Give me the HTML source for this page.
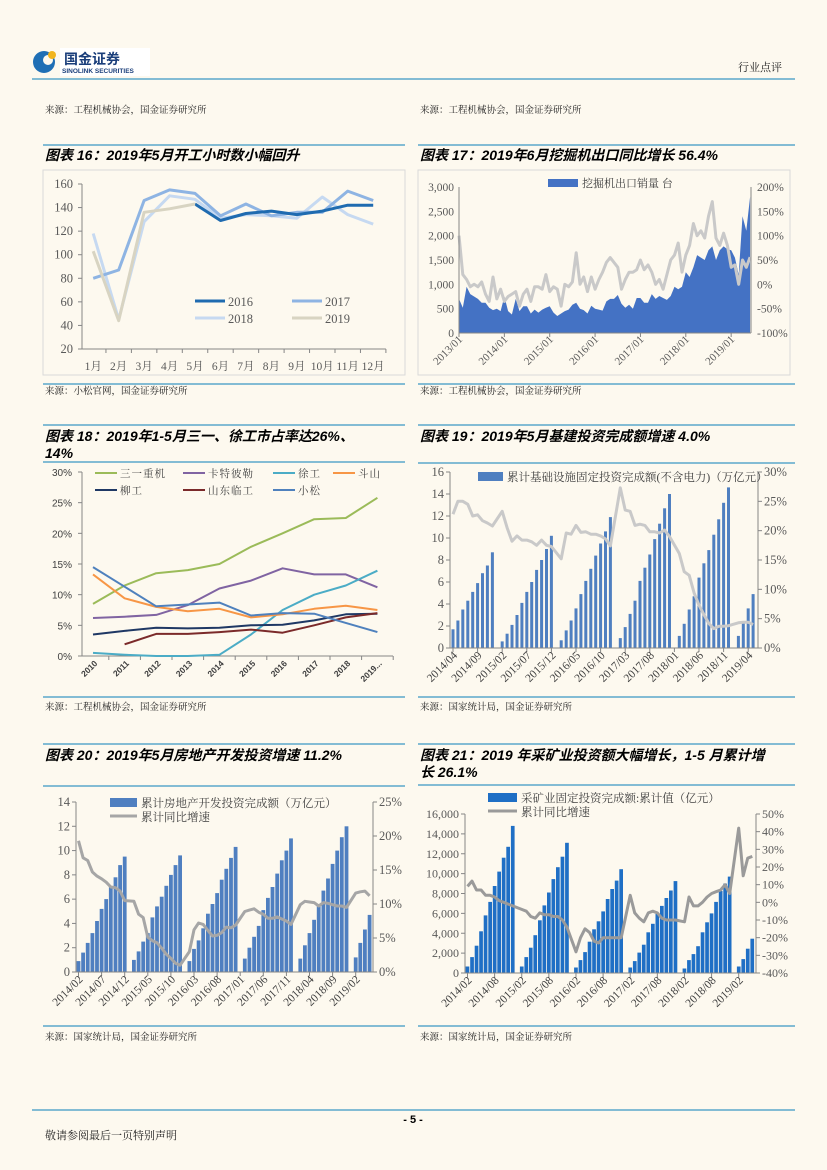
<!DOCTYPE html>
<html><head><meta charset="utf-8">
<style>
html,body{margin:0;padding:0;background:#fdf9ef;}
svg{display:block;}
text{font-family:"Liberation Serif","Noto Serif CJK SC",serif;}
.t{font-family:"Liberation Sans","Noto Sans CJK SC",sans-serif;font-weight:bold;font-style:italic;font-size:14px;fill:#000;}
.src{font-family:"Liberation Serif","Noto Serif CJK SC",serif;font-size:9.5px;fill:#222;}
.ax{font-size:12px;fill:#595959;}
.lg{font-family:"Liberation Serif","Noto Serif CJK SC",serif;font-size:11px;fill:#404040;}
</style></head>
<body>
<svg id="page" width="827" height="1170" xmlns="http://www.w3.org/2000/svg">
<rect x="0" y="0" width="827" height="1170" fill="#fdf9ef"/>
<g>
<circle cx="44" cy="62" r="11" fill="#1f6fb5"/><circle cx="48" cy="60" r="5" fill="#fdf9ef"/><circle cx="52" cy="55" r="4" fill="#f2b51c"/>
<rect x="60" y="48" width="90" height="28" fill="#fff"/>
<text x="64" y="64" style="font-family:'Noto Sans CJK SC',sans-serif;font-size:14px;font-weight:bold;fill:#1a3e7a">国金证券</text>
<text x="62" y="73" style="font-family:'Liberation Sans',sans-serif;font-size:6.5px;font-weight:bold;fill:#1a3e7a">SINOLINK SECURITIES</text>
</g>
<text x="738" y="71" class="src" style="font-size:11px">行业点评</text>
<line x1="32" y1="79" x2="795" y2="79" stroke="#5ba8cc" stroke-width="1.5"/>
<text x="45" y="113" class="src">来源：工程机械协会，国金证券研究所</text>
<text x="420" y="113" class="src">来源：工程机械协会，国金证券研究所</text>

<!-- titles & rules -->
<g stroke="#5ba8cc" stroke-width="1.5">
<line x1="43" y1="145" x2="405" y2="145"/><line x1="418" y1="145" x2="795" y2="145"/>
<line x1="43" y1="384" x2="405" y2="384"/><line x1="418" y1="384" x2="795" y2="384"/>
<line x1="43" y1="425" x2="405" y2="425"/><line x1="418" y1="425" x2="795" y2="425"/>
<line x1="43" y1="462" x2="405" y2="462"/><line x1="418" y1="463" x2="795" y2="463"/>
<line x1="43" y1="697" x2="405" y2="697"/><line x1="418" y1="697" x2="795" y2="697"/>
<line x1="43" y1="744" x2="405" y2="744"/><line x1="418" y1="744" x2="795" y2="744"/>
<line x1="43" y1="786" x2="405" y2="786"/><line x1="418" y1="785" x2="795" y2="785"/>
<line x1="43" y1="1026" x2="405" y2="1026"/><line x1="418" y1="1026" x2="795" y2="1026"/>
<line x1="32" y1="1110" x2="795" y2="1110"/>
</g>
<text x="45" y="160" class="t">图表 16：2019年5月开工小时数小幅回升</text>
<text x="420" y="160" class="t">图表 17：2019年6月挖掘机出口同比增长 56.4%</text>
<text x="45" y="441" class="t">图表 18：2019年1-5月三一、徐工市占率达26%、</text>
<text x="45" y="458" class="t">14%</text>
<text x="420" y="441" class="t">图表 19：2019年5月基建投资完成额增速 4.0%</text>
<text x="45" y="760" class="t">图表 20：2019年5月房地产开发投资增速 11.2%</text>
<text x="420" y="760" class="t">图表 21：2019 年采矿业投资额大幅增长，1-5 月累计增</text>
<text x="420" y="777" class="t">长 26.1%</text>
<text x="45" y="394" class="src">来源：小松官网，国金证券研究所</text>
<text x="420" y="394" class="src">来源：工程机械协会，国金证券研究所</text>
<text x="45" y="710" class="src">来源：工程机械协会，国金证券研究所</text>
<text x="420" y="710" class="src">来源：国家统计局，国金证券研究所</text>
<text x="45" y="1040" class="src">来源：国家统计局，国金证券研究所</text>
<text x="420" y="1040" class="src">来源：国家统计局，国金证券研究所</text>
<text x="413" y="1123" text-anchor="middle" style="font-family:'Liberation Sans',sans-serif;font-weight:bold;font-size:11px">- 5 -</text>
<text x="45" y="1139" class="src" style="font-size:11px">敬请参阅最后一页特别声明</text>
<rect x="43" y="170" width="362" height="205" fill="none" stroke="#d9d9d9"/>
<rect x="418" y="170" width="372" height="205" fill="none" stroke="#d9d9d9"/>
</svg>
<script>
// ---- chart 16 data ----
const c16Months=["1月","2月","3月","4月","5月","6月","7月","8月","9月","10月","11月","12月"];
const c16Y2016=[null,null,null,null,143,129,135,137,134,137,142,142];
const c16Y2017=[80,87,146,155,152,133,143,133,136,136,154,146];
const c16Y2018=[118,45,128,150,147,131,134,133,131,149,134,126];
const c16Y2019=[103,44,136,139,143];
const c16Ticks=[20,40,60,80,100,120,140,160];
// ---- chart 17 data ----
const c17Export=[700,520,950,800,750,700,620,620,520,470,500,450,
750,450,380,700,450,550,550,400,480,420,480,520,
550,420,350,400,450,480,580,620,500,470,400,560,
500,480,460,650,700,700,780,600,520,580,500,720,
720,620,620,800,700,760,720,680,760,950,900,950,
1250,1150,1350,1600,1550,1500,1700,1780,1500,1700,1780,1720,
1700,1550,1200,2400,2100,2800];
const c17Growth=[100,20,10,-5,0,-5,5,-20,-35,15,-30,-10,
-35,-25,-20,-15,-45,-20,-10,-35,-5,-5,-10,20,
-15,-5,-10,-45,0,-5,5,65,0,15,-15,15,
-10,10,25,45,55,45,35,-10,10,25,25,30,
50,30,40,25,0,10,-10,20,50,60,85,25,
60,80,125,100,110,95,140,170,95,80,105,80,
35,40,0,50,35,56];
const c17XLabels=["2013/01","2014/01","2015/01","2016/01","2017/01","2018/01","2019/01"];
const c17LeftTicks=[0,500,1000,1500,2000,2500,3000];
const c17RightTicks=[-100,-50,0,50,100,150,200];
// ---- chart 18 data ----
const c18Years=["2010","2011","2012","2013","2014","2015","2016","2017","2018","2019..."];
const c18Sany=[8.5,11.5,13.5,14,15,17.8,20,22.3,22.5,25.8];
const c18Cat=[6.2,6.4,6.7,8.3,11,12.3,14.3,13.3,13.3,11.2];
const c18Xcmg=[0.5,0.2,0,0,0.2,3.5,7.5,10,11.5,13.9];
const c18Doosan=[13.3,9.4,8,7.3,7.7,6.3,6.8,7.7,8.2,7.5];
const c18Liugong=[3.5,4.1,4.6,4.5,4.6,5,5.1,5.8,6.8,6.9];
const c18Lingong=[null,1.9,3.6,3.6,3.9,4.3,3.8,5,6.3,7];
const c18Komatsu=[14.5,11.3,8.1,8.4,8.7,6.6,7,6.9,5.4,3.9];
const c18Ticks=[0,5,10,15,20,25,30];
// ---- chart 19 data (2014/04 - 2019/05) ----
const c19Bars=[1.7,2.5,3.5,4.3,5.1,5.9,6.8,7.5,8.7,
null,0.6,1.3,2.1,3.0,4.1,5.1,6.0,7.1,8.0,9.0,10.2,
null,0.7,1.6,2.5,3.6,4.9,6.1,7.2,8.4,9.5,10.6,11.9,
null,0.9,1.9,3.1,4.3,6.1,7.3,8.5,9.9,11.3,12.7,14.0,
null,1.1,2.2,3.5,4.7,6.4,7.7,8.9,10.3,11.7,13.2,14.6,
null,1.1,2.3,3.6,4.9];
const c19Growth=[22.8,25,25,24.5,22.5,22.7,21.7,21.3,20.8,
null,23.3,20.5,18.2,19.1,18.4,18.4,18.1,17.5,18.4,17.5,17.3,
null,15.2,19.6,19.4,20.9,19.7,19.8,19.4,19.4,19.1,18.6,17.4,
null,27.3,23.5,23.3,20.9,21.1,20.9,19.8,19.8,19.6,20.1,19.0,
null,16.1,13.0,12.4,9.4,7.3,5.7,4.2,3.3,3.7,3.7,3.8,
null,4.3,4.4,4.4,4.0];
const c19XLabels=["2014/04","2014/09","2015/02","2015/07","2015/12","2016/05","2016/10","2017/03","2017/08","2018/01","2018/06","2018/11","2019/04"];
const c19LeftTicks=[0,2,4,6,8,10,12,14,16];
const c19RightTicks=[0,5,10,15,20,25,30];
// ---- chart 20 data (2014/02 - 2019/05) ----
const c20Bars=[0.9,1.6,2.4,3.2,4.2,5.2,6.0,7.0,7.8,8.8,9.5,
null,1.0,1.7,2.5,3.2,4.5,5.4,6.2,7.1,8.0,8.8,9.6,
null,0.9,1.9,2.6,3.6,4.8,5.6,6.5,7.6,8.5,9.4,10.3,
null,1.1,2.0,2.9,3.8,5.1,6.1,7.0,8.1,9.2,10.0,11.0,
null,1.1,2.2,3.2,4.3,5.6,6.7,7.7,8.9,10.0,11.1,12.0,
null,1.2,2.4,3.5,4.7];
const c20Growth=[19.3,16.8,16.4,14.7,14.1,13.7,13.2,12.5,12.4,11.9,10.5,
null,10.4,8.5,8.0,5.1,4.6,4.3,3.5,2.6,2.0,1.3,1.0,
null,3.0,6.2,7.2,7.0,6.1,5.3,5.4,5.8,6.6,6.5,6.9,
null,8.9,9.1,9.3,8.8,8.5,7.9,7.9,8.1,7.8,7.5,7.0,
null,9.9,10.4,10.3,10.2,9.7,10.2,10.1,9.9,9.7,9.7,9.5,
null,11.6,11.8,11.9,11.2];
const c20XLabels=["2014/02","2014/07","2014/12","2015/05","2015/10","2016/03","2016/08","2017/01","2017/06","2017/11","2018/04","2018/09","2019/02"];
const c20LeftTicks=[0,2,4,6,8,10,12,14];
const c20RightTicks=[0,5,10,15,20,25];
// ---- chart 21 data (2014/02 - 2019/05) ----
const c21Bars=[650,1600,2750,4200,5800,7150,8750,10200,11600,12700,14800,
null,650,1600,2550,3800,5300,6800,8100,9450,10650,11700,13100,
null,550,1300,2100,3150,4400,5200,6200,7450,8450,9300,10450,
null,550,1200,2050,2850,4100,4950,5950,6750,7550,8300,9250,
null,450,1300,1900,2700,4100,5100,6000,7150,8250,9000,9700,
null,650,1400,2450,3450];
const c21Growth=[9,12,7,7,4,4,3,1,0,-1,-2,
null,-4,-5,-8,-9,-6,-7,-7,-8,-8,-10,-14,
null,-28,-20,-15,-17,-22,-23,-20,-20,-20,-20,-20,
null,4,-6,-9,-11,-6,-5,-6,-9,-10,-10,-10,
null,-11,3,-2,-2,0,3,5,6,7,10,5,
null,42,15,25,26];
const c21XLabels=["2014/02","2014/08","2015/02","2015/08","2016/02","2016/08","2017/02","2017/08","2018/02","2018/08","2019/02"];
const c21LeftTicks=[0,2000,4000,6000,8000,10000,12000,14000,16000];
const c21RightTicks=[-40,-30,-20,-10,0,10,20,30,40,50];

const NS='http://www.w3.org/2000/svg';
const svg=document.getElementById('page');
function mk(tag,attrs,parent){const e=document.createElementNS(NS,tag);for(const k in attrs)e.setAttribute(k,attrs[k]);(parent||svg).appendChild(e);return e;}
function lin(d0,d1,r0,r1){return v=>r0+(v-d0)/(d1-d0)*(r1-r0);}
function fmt(n){return n.toString().replace(/\B(?=(\d{3})+(?!\d))/g,',');}
function linePath(vals,xf,yf){let d='',pen=false;vals.forEach((v,i)=>{if(v==null)return;d+=(pen?'L':'M')+xf(i).toFixed(1)+' '+yf(v).toFixed(1);pen=true;});return d;}
function label(x,y,s,anchor,cls,style){const t=mk('text',{x:x,y:y,'text-anchor':anchor,class:cls||'ax'});if(style)t.setAttribute('style',style);t.textContent=s;


return t;}
function axisLine(x1,y1,x2,y2,c){const l=mk('line',{x1:x1,y1:y1,x2:x2,y2:y2,stroke:c||'#868686','stroke-width':1});


return l;}
function rotLabel(x,y,s,style){const t=mk('text',{x:x,y:y,'text-anchor':'end',transform:'rotate(-45 '+x+' '+y+')',class:'ax',style:style||'font-size:11px'});t.textContent=s;

}

// ===== Chart 16 =====
(function(){
const g=mk('g',{});


const step=25.45,x0=80.5;
const x=i=>x0+step*(i+0.5);
const y=lin(20,160,349,184);
axisLine(82,184,82,349,'#868686');axisLine(80.5,349,x0+step*12,349,'#868686');
c16Ticks.forEach(t=>{axisLine(78,y(t),82,y(t));label(73,y(t)+4,String(t),'end','ax','font-size:12.5px');});
c16Months.forEach((m,i)=>{axisLine(x0+step*(i+1),349,x0+step*(i+1),353);label(x(i),370,m,'middle','ax','font-size:11.5px');});
const series=[[c16Y2018,'#c6d9f1','2018'],[c16Y2017,'#8eb4e3','2017'],[c16Y2016,'#1f6bb0','2016'],[c16Y2019,'#d8d4c2','2019']];
series.forEach(s=>{const p=mk('path',{d:linePath(s[0],x,y),fill:'none',stroke:s[1],'stroke-width':3,'stroke-linejoin':'round'},g);

});
const leg=[['2016','#1f6bb0',195,305],['2017','#8eb4e3',292,305],['2018','#c6d9f1',195,322],['2019','#d8d4c2',292,322]];
leg.forEach(l=>{const ln=mk('line',{x1:l[2],y1:l[3]-4,x2:l[2]+30,y2:l[3]-4,stroke:l[1],'stroke-width':3});


const t=label(l[2]+33,l[3]+1,l[0],'start','ax','font-size:12.5px');
});
})();

// ===== Chart 17 =====
(function(){
const x=i=>459+i*3.78;
const yL=lin(0,3000,333,187),yR=lin(-100,200,333,187);
let d='M'+x(0)+' '+yL(0);c17Export.forEach((v,i)=>{d+='L'+x(i).toFixed(1)+' '+yL(v).toFixed(1);});d+='L'+x(c17Export.length-1)+' '+yL(0)+'Z';
const a=mk('path',{d:d,fill:'#4472c4'});


const l=mk('path',{d:linePath(c17Growth,x,yR),fill:'none',stroke:'#c9c9c9','stroke-width':3,'stroke-linejoin':'round'});


axisLine(459,187,459,333);axisLine(751,187,751,333);axisLine(459,333,751,333);
c17LeftTicks.forEach(t=>{label(454,yL(t)+4,fmt(t),'end','ax','font-size:11.5px');});
c17RightTicks.forEach(t=>{label(757,yR(t)+4,t+'%','start','ax','font-size:11.5px');});
c17XLabels.forEach((s,k)=>{const xx=x(k*12);axisLine(xx,333,xx,337);rotLabel(xx+4,340,s);});
const r=mk('rect',{x:548,y:179,width:30,height:8,fill:'#4472c4'});


const t=label(582,187,'挖掘机出口销量 台','start','lg');

})();

// ===== Chart 18 =====
(function(){
const x=i=>93+i*31.6;
const y=lin(0,30,656,472);
axisLine(82,472,82,656,'#868686');axisLine(82,656,393,656,'#868686');
c18Ticks.forEach(t=>{axisLine(78,y(t),82,y(t));label(72,y(t)+4,t+'%','end','ax','font-family:Liberation Sans,sans-serif;font-size:10px;fill:#404040');});
c18Years.forEach((s,i)=>{axisLine(x(i)+15.8,656,x(i)+15.8,660);rotLabel(x(i)+5,664,s,'font-family:Liberation Sans,sans-serif;font-weight:bold;font-size:8.5px;fill:#404040');});
const series=[[c18Sany,'#9bbb59','三一重机',95,473],[c18Cat,'#8064a2','卡特彼勒',183,473],[c18Xcmg,'#4bacc6','徐工',273,473],[c18Doosan,'#f79646','斗山',333,473],
[c18Liugong,'#1f3864','柳工',95,490],[c18Lingong,'#7b2a2a','山东临工',183,490],[c18Komatsu,'#4f81bd','小松',273,490]];
series.forEach(s=>{const p=mk('path',{d:linePath(s[0],x,y),fill:'none',stroke:s[1],'stroke-width':2,'stroke-linejoin':'round'});


const ln=mk('line',{x1:s[3],y1:s[4],x2:s[3]+22,y2:s[4],stroke:s[1],'stroke-width':2});


const t=label(s[3]+25,s[4]+4,s[2],'start','lg','font-size:10.5px;letter-spacing:1px');
});
})();

// generic bar+line combo
function combo(bars,growth,o){
const x=i=>o.x0+i*o.step;
const yL=lin(0,o.lmax,o.yb,o.yt),yR=lin(o.rmin,o.rmax,o.yb,o.yt);
bars.forEach((v,i)=>{if(v==null)return;const r=mk('rect',{x:(x(i)-o.bw/2).toFixed(1),y:yL(v).toFixed(1),width:o.bw,height:(o.yb-yL(v)).toFixed(1),fill:o.bc});

});
const l=mk('path',{d:linePath(growth,x,yR),fill:'none',stroke:o.lc,'stroke-width':3,'stroke-linejoin':'round'});


axisLine(o.xl,o.yt,o.xl,o.yb);axisLine(o.xr,o.yt,o.xr,o.yb);axisLine(o.xl,o.yb,o.xr,o.yb);
o.lt.forEach(t=>{axisLine(o.xl-4,yL(t),o.xl,yL(t));label(o.xl-6,yL(t)+4,o.lf(t),'end','ax',o.fs);});
o.rt.forEach(t=>{axisLine(o.xr,yR(t),o.xr+4,yR(t));label(o.xr+6,yR(t)+4,t+'%','start','ax',o.fs);});
o.xlabels.forEach((s,k)=>{const xx=x(k*o.every);axisLine(xx,o.yb,xx,o.yb+4);rotLabel(xx+5,o.yb+8,s,'font-size:11.5px;fill:#404040');});
}
combo(c19Bars,c19Growth,{x0:453,step:4.92,bw:3,yb:648,yt:472,lmax:16,rmin:0,rmax:30,bc:'#4f7fc0',lc:'#c9c9c9',xl:450,xr:758,lt:c19LeftTicks,rt:c19RightTicks,lf:String,xlabels:c19XLabels,every:5,fs:'font-size:12.5px'});
combo(c20Bars,c20Growth,{x0:78.5,step:4.62,bw:3.8,yb:972,yt:802,lmax:14,rmin:0,rmax:25,bc:'#4f7fc0',lc:'#a6a6a6',xl:76,xr:373,lt:c20LeftTicks,rt:c20RightTicks,lf:String,xlabels:c20XLabels,every:5,fs:'font-size:12.5px'});
combo(c21Bars,c21Growth,{x0:467.5,step:4.52,bw:3.7,yb:973,yt:814,lmax:16000,rmin:-40,rmax:50,bc:'#1f6fc5',lc:'#9a9a9a',xl:465,xr:756,lt:c21LeftTicks,rt:c21RightTicks,lf:fmt,xlabels:c21XLabels,every:6,fs:'font-size:12px'});

// legends for 19-21
function legBox(x,y,w,c,s){const r=mk('rect',{x:x,y:y-8,width:w,height:9,fill:c});


const t=label(x+w+4,y+1,s,'start','lg','font-size:11.5px');
}
function legLine(x,y,w,c,s){const l=mk('line',{x1:x,y1:y-4,x2:x+w,y2:y-4,stroke:c,'stroke-width':3});


const t=label(x+w+4,y+1,s,'start','lg','font-size:11.5px');
}
legBox(478,480,25,'#4f7fc0','累计基础设施固定投资完成额(不含电力)（万亿元）');
legBox(110,806,27,'#4f7fc0','累计房地产开发投资完成额（万亿元）');
legLine(110,820,27,'#a6a6a6','累计同比增速');
legBox(488,801,29,'#1f6fc5','采矿业固定投资完成额:累计值（亿元）');
legLine(488,815,29,'#9a9a9a','累计同比增速');
</script>
</body></html>
